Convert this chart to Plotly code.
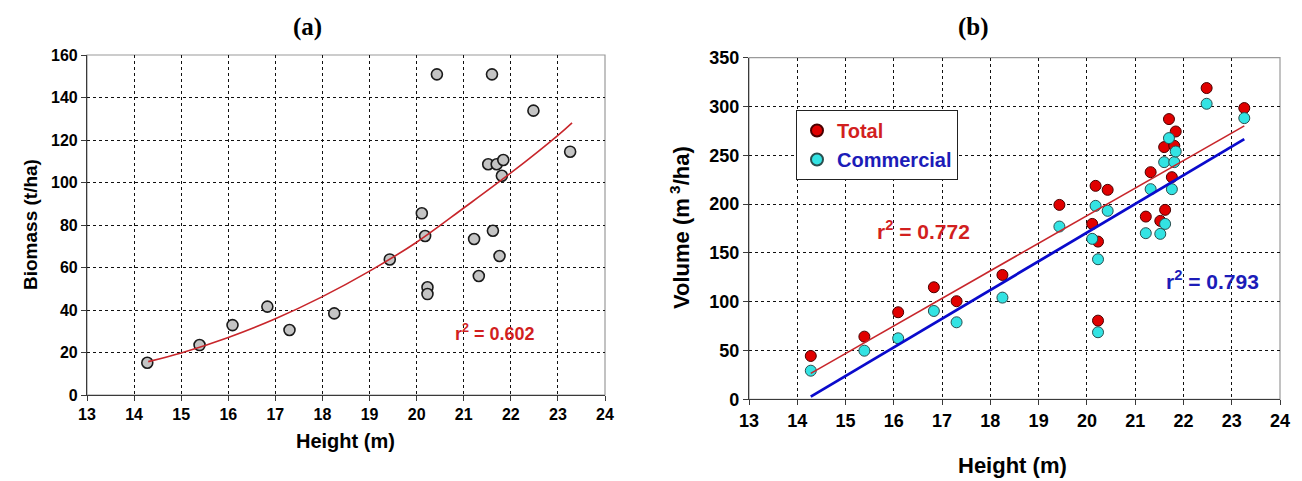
import plotly.graph_objects as go

# ---------------- data ----------------
height_m = [14.28, 15.39, 16.09, 16.83, 17.30, 18.25, 19.43, 20.11, 20.18, 20.23, 20.23,
            20.43, 21.22, 21.32, 21.52, 21.60, 21.62, 21.70, 21.76, 21.81, 21.84, 22.48, 23.26]

biomass_t_ha = [15.2, 23.5, 32.9, 41.6, 30.6, 38.4, 63.8, 85.5, 74.8, 50.7, 47.5,
                150.9, 73.4, 56.0, 108.6, 150.9, 77.3, 108.6, 65.4, 103.2, 110.6, 133.8, 114.5]

total_volume = [44.4, 64.2, 89.2, 114.8, 100.5, 127.4, 199.2, 179.7, 218.7, 161.6, 80.6,
                214.6, 187.2, 232.7, 182.8, 258.4, 194.1, 287.1, 227.6, 259.7, 274.4, 318.9, 298.4]
commercial_volume = [29.3, 49.8, 62.5, 90.5, 78.9, 104.2, 177.0, 164.4, 198.2, 143.5, 68.7,
                     193.1, 170.2, 215.3, 169.5, 243.0, 179.7, 267.6, 215.3, 243.0, 253.9, 302.8, 288.1]

# trend lines as drawn in the picture
trend_a_x = [14.3, 15, 16, 17, 18, 19, 20, 21, 22, 23, 23.3]
trend_a_y = [15.7, 19.8, 27.1, 35.9, 46.3, 58.3, 71.9, 88.0, 104.5, 122.2, 128.1]
trend_total_x = [14.28, 23.26]
trend_total_y = [26.6, 280.2]
trend_comm_x = [14.28, 23.26]
trend_comm_y = [2.7, 266.6]

x_ticks = list(range(13, 25))
biomass_ticks = list(range(0, 161, 20))
volume_ticks = list(range(0, 351, 50))

r2_a = "r<sup>2</sup> = 0.602"
r2_total = "r<sup>2</sup> = 0.772"
r2_comm = "r<sup>2</sup> = 0.793"

# ---------------- styling ----------------
W, H = 1302, 481
SANS = "Liberation Sans, Arial, sans-serif"
SERIF = "Liberation Serif, Times New Roman, serif"
RED_TXT = "#d21f1f"
BLUE_TXT = "#1c1cb8"

def px_x(p):
    return p / W

def px_y(p):
    return 1 - p / H

fig = go.Figure()

# panel (a)
fig.add_trace(go.Scatter(
    x=height_m, y=biomass_t_ha, mode="markers", xaxis="x", yaxis="y",
    marker=dict(size=11, color="#c4c4c4", line=dict(color="#1a1a1a", width=1.6)),
    showlegend=False))
fig.add_trace(go.Scatter(
    x=trend_a_x, y=trend_a_y, mode="lines", line_shape="spline", xaxis="x", yaxis="y",
    line=dict(color="#c8262b", width=1.6), showlegend=False))

# panel (b)
fig.add_trace(go.Scatter(
    x=height_m, y=total_volume, mode="markers", xaxis="x2", yaxis="y2",
    name="<span style='color:%s'>Total</span>" % RED_TXT,
    marker=dict(size=11, color="#e00000", line=dict(color="#4a0000", width=1))))
fig.add_trace(go.Scatter(
    x=height_m, y=commercial_volume, mode="markers", xaxis="x2", yaxis="y2",
    name="<span style='color:%s'>Commercial</span>" % BLUE_TXT,
    marker=dict(size=11, color="#33e3e3", line=dict(color="#2a4f4f", width=1))))
fig.add_trace(go.Scatter(
    x=trend_total_x, y=trend_total_y, mode="lines", xaxis="x2", yaxis="y2",
    line=dict(color="#c8262b", width=1.6), showlegend=False))
fig.add_trace(go.Scatter(
    x=trend_comm_x, y=trend_comm_y, mode="lines", xaxis="x2", yaxis="y2",
    line=dict(color="#0a0acc", width=2.8), showlegend=False))

grid = dict(showgrid=True, gridcolor="#111111", gridwidth=1, griddash="3px,3px",
            showline=True, linecolor="#3a3a3a", linewidth=1.2, automargin=False,
            ticks="outside", ticklen=5, tickcolor="#3a3a3a", zeroline=False)

def label(text, x, y, size, angle=0, family=SANS):
    return dict(text=text, x=px_x(x), y=px_y(y), xref="paper", yref="paper",
                xanchor="center", yanchor="middle", textangle=angle,
                showarrow=False, font=dict(size=size, family=family, color="black"))

fig.update_layout(
    template="none",
    width=W, height=H,
    margin=dict(l=0, r=0, t=0, b=0, autoexpand=False),
    paper_bgcolor="white", plot_bgcolor="white",
    font=dict(family=SANS, color="black"),
    xaxis=dict(domain=[px_x(87), px_x(605)], range=[13, 24], tickvals=x_ticks,
               anchor="y", tickfont=dict(size=16, weight="bold"), **grid),
    yaxis=dict(domain=[px_y(395), px_y(55)], range=[0, 160], tickvals=biomass_ticks,
               anchor="x", tickfont=dict(size=16, weight="bold"), **grid),
    xaxis2=dict(domain=[px_x(749), px_x(1280)], range=[13, 24], tickvals=x_ticks,
                anchor="y2", tickfont=dict(size=18, weight="bold"), **grid),
    yaxis2=dict(domain=[px_y(399.3), px_y(57.7)], range=[0, 350], tickvals=volume_ticks,
                anchor="x2", tickfont=dict(size=18, weight="bold"), **grid),
    legend=dict(x=px_x(796), y=px_y(110), xanchor="left", yanchor="top",
                xref="paper", yref="paper",
                bgcolor="white", bordercolor="#222222", borderwidth=1,
                font=dict(size=20, weight="bold", family=SANS),
                tracegroupgap=0, itemsizing="constant"),
    shapes=[
        dict(type="rect", xref="x domain", yref="y domain", x0=0, x1=1, y0=0, y1=1,
             line=dict(color="#9a9a9a", width=1.2), layer="below"),
        dict(type="rect", xref="x2 domain", yref="y2 domain", x0=0, x1=1, y0=0, y1=1,
             line=dict(color="#9a9a9a", width=1.2), layer="below"),
    ],
    annotations=[
        label("<b>(a)</b>", 307, 27, 25, family=SERIF),
        label("<b>(b)</b>", 973, 27, 25, family=SERIF),
        label("<b>Biomass (t/ha)</b>", 30, 225, 19, angle=-90),
        label("<b>Height (m)</b>", 346, 441, 20),
        label("<b>Volume (m<sup> 3</sup>/ha)</b>", 680, 228, 22, angle=-90),
        label("<b>Height (m)</b>", 1012, 465, 22),
        dict(text="<b>%s</b>" % r2_a, x=21.66, y=29.6, xref="x", yref="y",
             showarrow=False, font=dict(size=18, color=RED_TXT)),
        dict(text="<b>%s</b>" % r2_total, x=16.61, y=173.6, xref="x2", yref="y2",
             showarrow=False, font=dict(size=21, color=RED_TXT)),
        dict(text="<b>%s</b>" % r2_comm, x=22.61, y=122.3, xref="x2", yref="y2",
             showarrow=False, font=dict(size=21, color=BLUE_TXT)),
    ],
)

fig.write_html("out.html", config={"displayModeBar": False},
               post_script="document.body.style.margin='0px';")
